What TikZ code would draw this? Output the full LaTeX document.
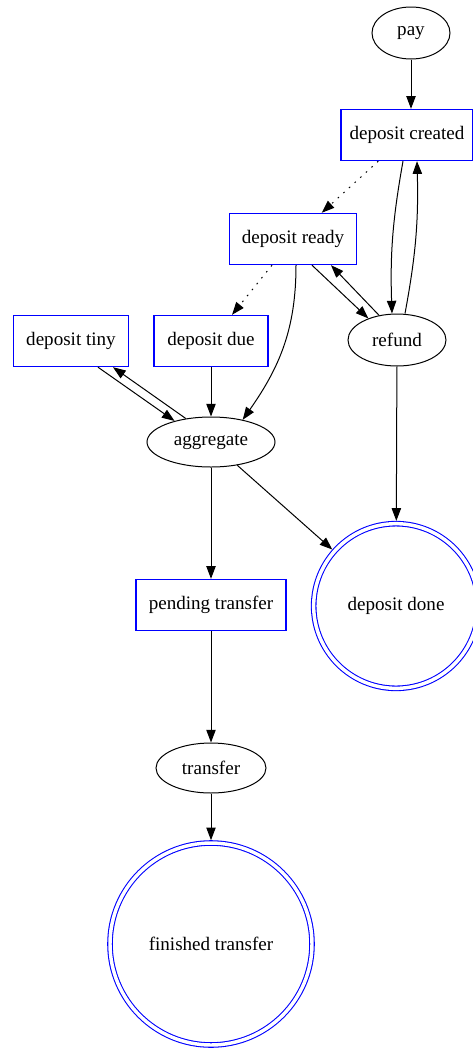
\documentclass[tikz,border=0pt]{standalone}
\usepackage{fontspec}
\setmainfont{Liberation Serif}
\usetikzlibrary{shapes.geometric, arrows.meta}

\begin{document}
\begin{tikzpicture}[x=0.75pt, y=-0.75pt, >={Triangle[length=9.5pt,width=7pt]},
  every node/.style={font=\fontsize{14.3}{17}\selectfont},
  statebox/.style={rectangle, draw=blue, line width=0.8pt, minimum height=38.5pt, inner sep=0pt},
  actionell/.style={ellipse, draw, line width=0.75pt, inner sep=0pt},
  donestate/.style={circle, draw=blue, double=white, double distance=2.6pt, line width=0.8pt, inner sep=0pt, outer sep=2.1pt},
  link/.style={->, line width=0.75pt},
  dotlink/.style={link, dash pattern=on 1.2pt off 4.5pt}]

\useasboundingbox (0,0) rectangle (473,1050);

% States and actions
\node[actionell, minimum width=58.5pt, minimum height=39pt] (pay) at (411,33) {pay};
\node[statebox, minimum width=99pt] (created) at (407,135) {deposit created};
\node[statebox, minimum width=95.25pt] (ready) at (293,239) {deposit ready};
\node[actionell, minimum width=73.5pt, minimum height=39pt] (refund) at (397,340) {refund};
\node[statebox, minimum width=86.25pt] (tiny) at (71,341) {deposit tiny};
\node[statebox, minimum width=85.5pt] (due) at (211,341) {deposit due};
\node[actionell, minimum width=96pt, minimum height=37.5pt] (aggregate) at (211,442) {aggregate};
\node[donestate, minimum size=123.5pt] (done) at (396,606) {deposit done};
\node[statebox, minimum width=112.5pt] (pending) at (211,605) {pending transfer};
\node[actionell, minimum width=82.5pt, minimum height=37.5pt] (transfer) at (211,768) {transfer};
\node[donestate, minimum size=151.5pt] (finished) at (211,944) {finished transfer};

% Transitions
\draw[link] (pay) -- (pay |- created.north);
\draw[dotlink] (created) -- (ready);
\draw[link] ([xshift=-3pt]created.south) to[bend right=6] ([xshift=-3.75pt]refund.north);
\draw[link] ([xshift=6pt]refund.north) to[bend right=6] ([xshift=7.5pt]created.south);
\draw[link] ([xshift=14.25pt]ready.south) -- (refund.143);
\draw[link] (refund.126) -- ([xshift=28.5pt]ready.south);
\draw[dotlink] (ready) -- (due);
\draw[link] ([xshift=2.25pt]ready.south) to[out=-90, in=55] (aggregate.35);
\draw[link] ([xshift=20.25pt]tiny.south) -- (aggregate.150);
\draw[link] (aggregate.137) -- ([xshift=31.5pt]tiny.south);
\draw[link] (due) -- (aggregate);
\draw[link] (refund) -- (done);
\draw[link] (aggregate) -- (done);

% Transfer chain
\draw[link] (aggregate) -- (pending);
\draw[link] (pending) -- (transfer);
\draw[link] (transfer) -- (finished);
\end{tikzpicture}
\end{document}
